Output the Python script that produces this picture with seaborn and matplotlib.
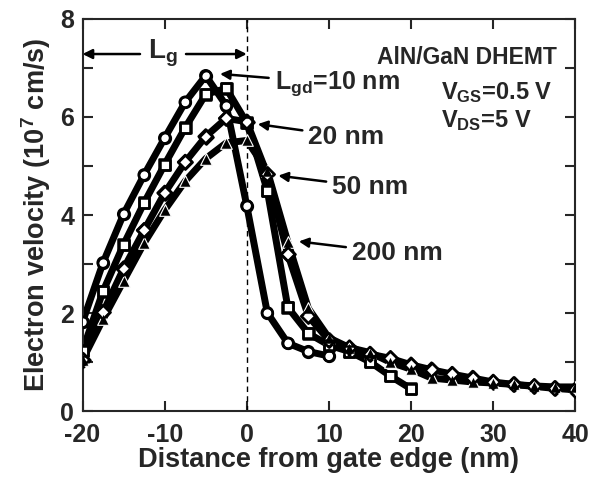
import numpy as np
import pandas as pd
import matplotlib
matplotlib.use("Agg")
import matplotlib.pyplot as plt
import seaborn as sns

# ---- data ----
x_10 = [-20, -17.5, -15, -12.5, -10, -7.5, -5, -2.5, 0, 2.5, 5, 7.5, 10]
v_10 = [1.82, 3.03, 4.02, 4.82, 5.57, 6.30, 6.84, 6.23, 4.19, 2.01, 1.39, 1.22, 1.13]

x_20 = [-20, -17.5, -15, -12.5, -10, -7.5, -5, -2.5, 0, 2.5, 5, 7.5, 10, 12.5, 15, 17.5, 20]
v_20 = [1.24, 2.45, 3.40, 4.25, 5.03, 5.78, 6.46, 6.58, 5.88, 4.50, 2.12, 1.59, 1.35, 1.22, 1.01, 0.72, 0.46]

x_50 = [-20, -17.5, -15, -12.5, -10, -7.5, -5, -2.5, 0, 2.5, 5, 7.5, 10, 12.5,
        15, 17.5, 20, 22.5, 25, 27.5, 30, 32.5, 35, 37.5, 40]
v_50 = [1.05, 2.02, 2.91, 3.69, 4.45, 5.08, 5.60, 5.97, 5.90, 4.83, 3.20, 1.94, 1.45, 1.30,
        1.17, 1.08, 0.95, 0.85, 0.76, 0.68, 0.60, 0.55, 0.51, 0.47, 0.44]

x_200 = [-20, -17.5, -15, -12.5, -10, -7.5, -5, -2.5, 0, 2.5, 5, 7.5, 10, 12.5,
         15, 17.5, 20, 22.5, 25, 27.5, 30, 32.5, 35, 37.5, 40]
v_200 = [1.05, 1.88, 2.66, 3.43, 4.10, 4.69, 5.15, 5.47, 5.52, 4.90, 3.45, 2.10, 1.50, 1.30,
         1.20, 1.00, 0.86, 0.68, 0.64, 0.60, 0.58, 0.55, 0.52, 0.50, 0.50]

x_ticks = [-20, -10, 0, 10, 20, 30, 40]
y_ticks = [0, 2, 4, 6, 8]

# ---- style ----
sns.set_style("ticks")
plt.rcParams["font.family"] = ["Liberation Sans", "DejaVu Sans"]
plt.rcParams["font.weight"] = "bold"
plt.rcParams["axes.unicode_minus"] = False
plt.rcParams["mathtext.fontset"] = "custom"
plt.rcParams["mathtext.rm"] = "Liberation Sans:bold"
plt.rcParams["mathtext.it"] = "Liberation Sans:bold"
plt.rcParams["mathtext.bf"] = "Liberation Sans:bold"
plt.rcParams["mathtext.default"] = "rm"

fig = plt.figure(figsize=(5.98, 4.79), dpi=100)
ax = fig.add_axes([0.138, 0.141, 0.824, 0.820])

series = [
    (x_10, v_10, "o", "w", "k"),
    (x_20, v_20, "s", "w", "k"),
    (x_50, v_50, "D", "w", "k"),
    (x_200, v_200, "^", "k", "w"),
]

for xs, vs, m, fc, ec in series:
    df = pd.DataFrame({"x": xs, "v": vs})
    sns.lineplot(data=df, x="x", y="v", ax=ax, color="k", linewidth=5,
                 sort=False, zorder=2, solid_joinstyle="round", solid_capstyle="round")

for xs, vs, m, fc, ec in series:
    df = pd.DataFrame({"x": xs, "v": vs})
    size = 60 if m not in ("D", "^") else (52 if m == "D" else 70)
    sns.scatterplot(data=df, x="x", y="v", ax=ax, marker=m, s=size,
                    facecolor=fc, edgecolor=ec if m != "^" else "w",
                    linewidth=1.8 if m != "^" else 0.8, zorder=3)
    if m != "^":
        sns.scatterplot(data=df, x="x", y="v", ax=ax, marker=m, s=size,
                        facecolor="none", edgecolor="k", linewidth=1.8, zorder=4)

ax.axvline(0, color="k", linestyle=(0, (4, 3)), linewidth=1.0, zorder=1)

ax.set_xlim(-20, 40)
ax.set_ylim(0, 8)
ax.set_xticks(x_ticks)
ax.set_yticks(y_ticks)
ax.set_yticks([1, 3, 5, 7], minor=True)
ax.tick_params(axis="both", which="both", direction="in", top=True, right=True,
               width=1.5, labelsize=18)
ax.tick_params(axis="x", which="major", pad=8)
ax.tick_params(axis="y", which="major", pad=6)
ax.tick_params(axis="both", which="major", length=7)
ax.tick_params(axis="both", which="minor", length=7)
for lab in ax.get_xticklabels() + ax.get_yticklabels():
    lab.set_fontweight("bold")
for s in ax.spines.values():
    s.set_linewidth(1.5)

ax.set_xlabel("Distance from gate edge (nm)", fontsize=19.5, fontweight="bold", labelpad=0)
ax.set_ylabel("Electron velocity (10$^{7}$ cm/s)", fontsize=19.5, fontweight="bold", labelpad=5)

# annotations
ap = dict(arrowstyle="-|>", color="k", lw=1.8, mutation_scale=14, shrinkA=2, shrinkB=2)
ax.annotate("L$_{gd}$=10 nm", xy=(-3.6, 6.88), xytext=(3.4, 6.68), fontsize=18,
            fontweight="bold", ha="left", va="center", arrowprops=ap)
ax.annotate("20 nm", xy=(1.0, 5.86), xytext=(7.5, 5.6), fontsize=19,
            fontweight="bold", ha="left", va="center", arrowprops=ap)
ax.annotate("50 nm", xy=(3.5, 4.81), xytext=(10.4, 4.57), fontsize=19,
            fontweight="bold", ha="left", va="center", arrowprops=ap)
ax.annotate("200 nm", xy=(6.0, 3.47), xytext=(12.8, 3.22), fontsize=19,
            fontweight="bold", ha="left", va="center", arrowprops=ap)

ax.text(-10.2, 7.3, "L$_{g}$", fontsize=20, fontweight="bold", ha="center", va="center")
ap2 = dict(arrowstyle="-|>", color="k", lw=1.8, mutation_scale=14, shrinkA=0, shrinkB=0)
ax.annotate("", xy=(-20, 7.28), xytext=(-13.0, 7.28), arrowprops=ap2)
ax.annotate("", xy=(0, 7.28), xytext=(-7.4, 7.28), arrowprops=ap2)

ax.text(37.7, 7.2, "AlN/GaN DHEMT", fontsize=16.5, fontweight="bold", ha="right", va="center")
ax.text(23.6, 6.5, "V$_{GS}$=0.5 V", fontsize=17, fontweight="bold", ha="left", va="center")
ax.text(23.6, 5.93, "V$_{DS}$=5 V", fontsize=17, fontweight="bold", ha="left", va="center")

fig.savefig("out.png", dpi=100)
